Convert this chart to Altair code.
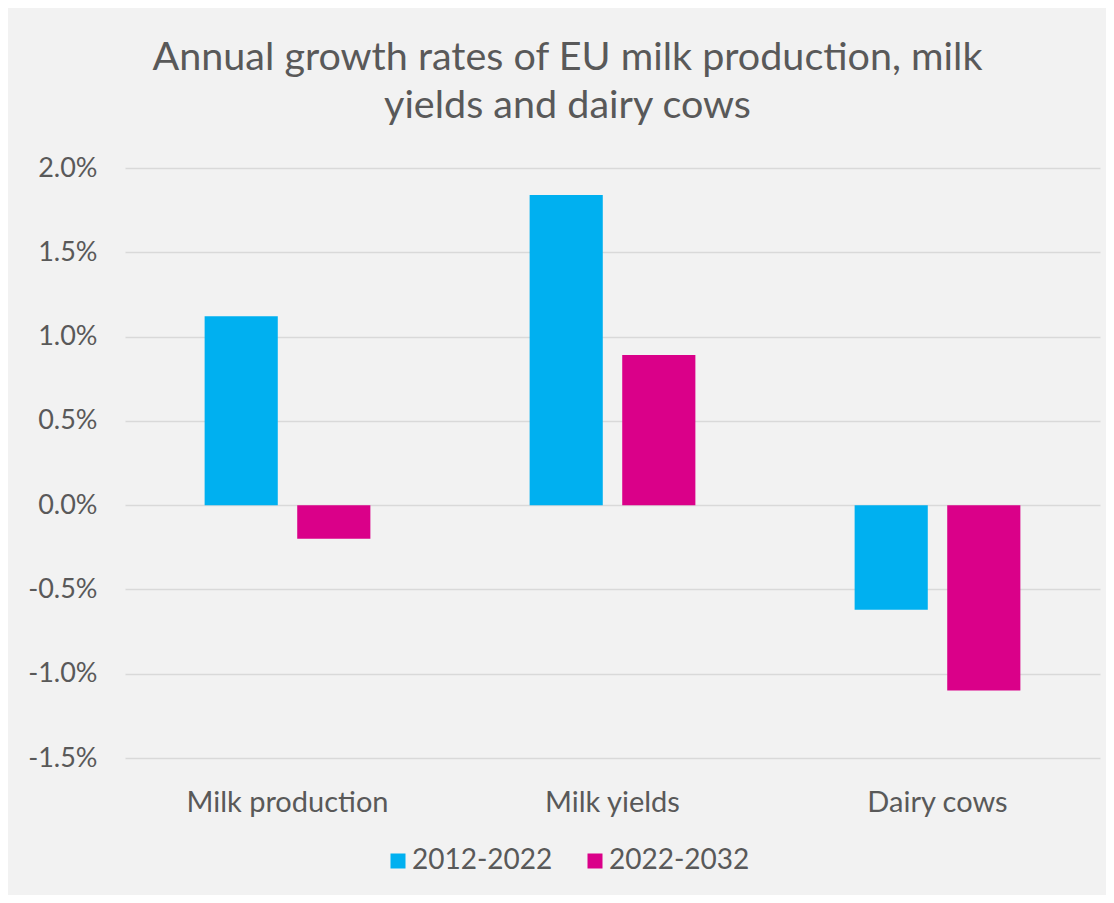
import altair as alt
import pandas as pd

categories = ["Milk production", "Milk yields", "Dairy cows"]
periods = ["2012-2022", "2022-2032"]
growth_2012_2022 = [0.0112, 0.0184, -0.0062]
growth_2022_2032 = [-0.0020, 0.0089, -0.0110]
y_ticks = [-0.015, -0.01, -0.005, 0.0, 0.005, 0.01, 0.015, 0.02]

rows = []
for c, a, b in zip(categories, growth_2012_2022, growth_2022_2032):
    rows.append({"category": c, "period": periods[0], "value": a})
    rows.append({"category": c, "period": periods[1], "value": b})
df = pd.DataFrame(rows)

FONT = "Lato"
TXT = "#595959"

chart = alt.Chart(df).mark_bar().encode(
    x=alt.X("category:N", sort=categories, title=None,
            scale=alt.Scale(paddingInner=0.49, paddingOuter=0.245),
            axis=alt.Axis(labelAngle=0, ticks=False, domain=False,
                          labelPadding=30, labelFontSize=29, labelColor=TXT,
                          labelFont=FONT, grid=False, labelLimit=0)),
    xOffset=alt.XOffset("period:N", sort=periods,
                        scale=alt.Scale(paddingInner=0.21, paddingOuter=0)),
    y=alt.Y("value:Q", title=None,
            scale=alt.Scale(domain=[-0.015, 0.02], nice=False, zero=True),
            axis=alt.Axis(values=y_ticks, format=".1%", ticks=False, domain=False,
                          labelExpr="replace(datum.label, '\u2212', '-')",
                          labelPadding=28, labelFontSize=27, labelColor=TXT,
                          labelFont=FONT, gridColor="#d9d9d9", gridWidth=1.3)),
    color=alt.Color("period:N", sort=periods,
                    scale=alt.Scale(domain=periods, range=["#00B0F0", "#DA0089"]),
                    legend=alt.Legend(title=None, orient="none", direction="horizontal",
                                      legendX=259, legendY=679,
                                      symbolType="square", symbolSize=225,
                                      symbolStrokeWidth=0, labelFontSize=28,
                                      labelColor=TXT, labelFont=FONT,
                                      labelOffset=0, columnPadding=28)),
).properties(
    width=975,
    height=590,
    title=alt.TitleParams(
        text=["Annual growth rates of EU milk production, milk",
              "yields and dairy cows"],
        anchor="middle", fontSize=39.5, font=FONT, color=TXT, fontWeight="normal",
        lineHeight=48, offset=28, dx=-45,
    ),
    autosize=alt.AutoSizeParams(type="none"),
    padding={"left": 117, "top": 160, "right": 6, "bottom": 137},
    background="#f2f2f2",
).configure_view(stroke=None)

chart.save("out.html", embed_options={"renderer": "svg", "actions": False})
